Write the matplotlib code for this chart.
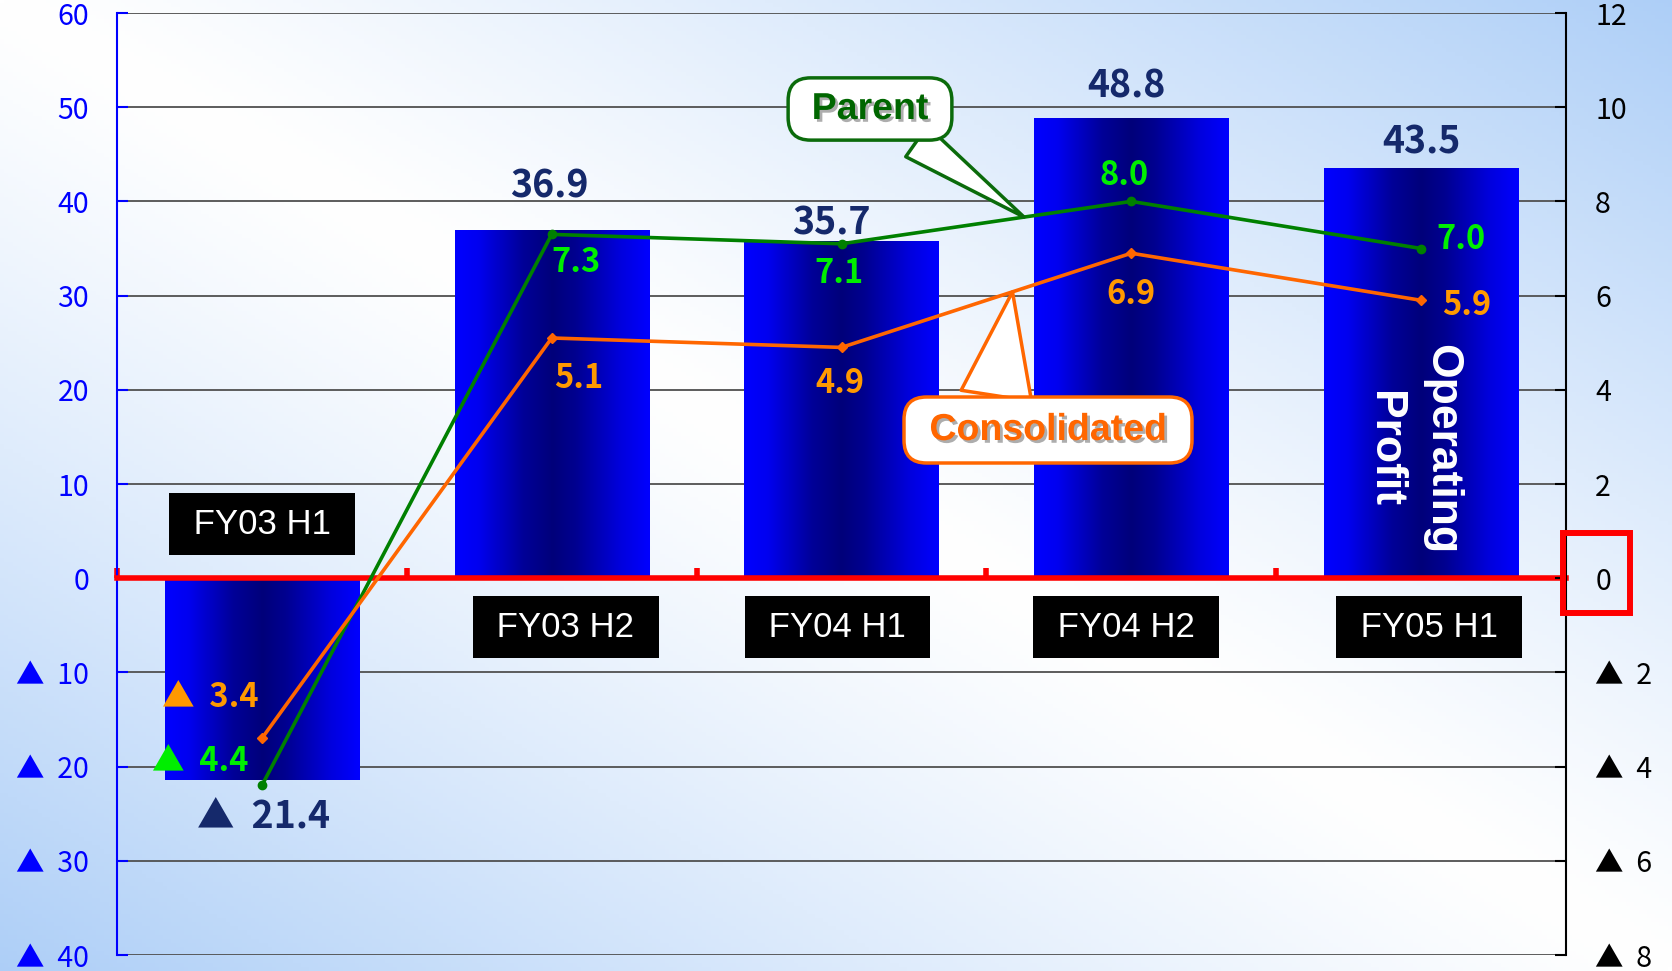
import matplotlib
matplotlib.use('Agg')
import matplotlib.pyplot as plt
import matplotlib.patheffects as pe
import numpy as np
from matplotlib.colors import LinearSegmentedColormap
from matplotlib.patches import Rectangle
from matplotlib.ticker import FuncFormatter

plt.rcParams['font.family'] = ['Liberation Sans', 'DejaVu Sans']
NUM_FONT = ['Noto Sans CJK JP', 'DejaVu Sans']   # big full-width ▲ like the original

# data
periods = ['FY03 H1', 'FY03 H2', 'FY04 H1', 'FY04 H2', 'FY05 H1']
operating_profit = [-21.4, 36.9, 35.7, 48.8, 43.5]   # left axis (bars)
parent = [-4.4, 7.3, 7.1, 8.0, 7.0]                   # right axis
consolidated = [-3.4, 5.1, 4.9, 6.9, 5.9]             # right axis

# label offsets in pixels (dx, dy)
bar_lbl_off = [(2, -37), (-2, 45), (-10, 19), (-5, 33), (0, 26)]
par_lbl_off = [(-62, 24), (24, -28), (-3, -30), (-7, 26), (40, 9)]
con_lbl_off = [(-52, 41), (27, -41), (-2, -36), (0, -41), (46, -5)]
box_off = [(0, 54), (14, -49), (-4, -49), (-5, -49), (8, -49)]


def fmt(v):
    return f'▲  {abs(v):.1f}' if v < 0 else f'{v:.1f}'


def tick_fmt(v, pos):
    return f'▲  {abs(v):.0f}' if v < 0 else f'{v:.0f}'


W, H = 1672, 971
fig = plt.figure(figsize=(W / 100, H / 100), dpi=100)

# background gradient
bg = fig.add_axes([0, 0, 1, 1], zorder=-10)
U, Y = np.meshgrid(np.linspace(0, 1, 400), np.linspace(0, 1, 240))
t = np.abs(U - Y) ** 1.2
white = np.array([1.0, 1.0, 1.0])
blue = np.array([0.68, 0.81, 0.97])
bg.imshow(white + (blue - white) * t[..., None], aspect='auto',
          extent=[0, 1, 0, 1], origin='upper')
bg.axis('off')

ax = fig.add_axes([117 / W, 1 - 955 / H, (1566 - 117) / W, (955 - 13) / H])
ax.patch.set_alpha(0)
x = np.arange(len(periods))

# bars with horizontal gradient
bar_cmap = LinearSegmentedColormap.from_list('bar', [
    (0.0, '#0000ff'), (0.12, '#0000f0'), (0.35, '#000098'), (0.5, '#00007a'),
    (0.62, '#000090'), (0.85, '#0000dd'), (1.0, '#0000ff')])
grad = np.linspace(0, 1, 256).reshape(1, -1)
bars = ax.bar(x, operating_profit, width=0.67, color='none', zorder=2)
for b in bars:
    x0, y0, w, h = b.get_x(), b.get_y(), b.get_width(), b.get_height()
    ax.imshow(grad, extent=[x0, x0 + w, min(y0, y0 + h), max(y0, y0 + h)],
              aspect='auto', cmap=bar_cmap, zorder=2)

ax.set_xlim(-0.5, 4.5)
ax.set_ylim(-40, 60)

ax.set_yticks(range(-40, 61, 10))
ax.yaxis.set_major_formatter(FuncFormatter(tick_fmt))
ax.yaxis.grid(True, color='#505050', lw=1.3)
ax.set_axisbelow(True)
ax.tick_params(axis='y', direction='in', length=8, width=1.5, color='#0000ff',
               labelcolor='#0000ff', labelsize=20.5, pad=20, labelfontfamily=NUM_FONT)

ax.set_xticks(np.arange(-0.5, 4, 1))
ax.set_xticklabels([])
ax.tick_params(axis='x', direction='in', length=7, width=4, color='red')
ax.spines['bottom'].set_position(('data', 0))
ax.spines['bottom'].set_color('red')
ax.spines['bottom'].set_linewidth(4)
ax.spines['top'].set_visible(False)
ax.spines['right'].set_visible(False)
ax.spines['left'].set_color('#0000ff')
ax.spines['left'].set_linewidth(1.5)

# bar value labels
for i, v in enumerate(operating_profit):
    ax.annotate(fmt(v), (x[i], v), xytext=bar_lbl_off[i], textcoords='offset pixels',
                ha='center', va='center', fontsize=27, fontweight='bold', color='#15296b',
                family=NUM_FONT)

# period boxes
for i, p in enumerate(periods):
    ax.annotate(f' {p} ', (x[i], 0), xytext=box_off[i],
                textcoords='offset pixels', ha='center', va='center',
                fontsize=25, color='white',
                bbox=dict(boxstyle='square,pad=0.42', fc='black', ec='none'))

ax.annotate('Operating\nProfit', (x[4], 0), xytext=(-8, 129), textcoords='offset pixels',
            ha='center', va='center', rotation=-90, fontsize=32, fontweight='bold',
            color='white', linespacing=1.5, multialignment='center')

# lines on right axis
ax2 = ax.twinx()
ax2.patch.set_alpha(0)
ax2.set_ylim(-8, 12)
ax2.set_yticks(range(-8, 13, 2))
ax2.yaxis.set_major_formatter(FuncFormatter(tick_fmt))
ax2.tick_params(axis='y', direction='in', length=8, width=1.5, color='black',
                labelcolor='black', labelsize=20.5, pad=21, labelfontfamily=NUM_FONT)
for s in ['left', 'top', 'bottom']:
    ax2.spines[s].set_visible(False)
ax2.spines['right'].set_linewidth(1.5)

ax2.plot(x, parent, color='#008000', lw=2.6, marker='o', ms=6, zorder=3)
ax2.plot(x, consolidated, color='#ff6600', lw=2.6, marker='D', ms=5.5, zorder=3)

for i, v in enumerate(parent):
    ax2.annotate(fmt(v), (x[i], v), xytext=par_lbl_off[i], textcoords='offset pixels',
                 ha='center', va='center', fontsize=23.5, fontweight='bold', color='#00ee00',
                 family=NUM_FONT)
for i, v in enumerate(consolidated):
    ax2.annotate(fmt(v), (x[i], v), xytext=con_lbl_off[i], textcoords='offset pixels',
                 ha='center', va='center', fontsize=23.5, fontweight='bold', color='#ff9900',
                 family=NUM_FONT)

# callouts
shadow = [pe.withSimplePatchShadow(offset=(2, -2), shadow_rgbFace='#999999', alpha=0.8)]
tip = 2.63
ax2.annotate(' Parent ', xy=(tip, np.interp(tip, x, parent)), xytext=(870, H - 109),
             textcoords='figure pixels', ha='center', va='center', fontsize=27,
             fontweight='bold', color='#006600', path_effects=shadow,
             bbox=dict(boxstyle='round,pad=0.35,rounding_size=0.6', fc='white',
                       ec='#0b6b0b', lw=2.5),
             arrowprops=dict(arrowstyle='wedge,tail_width=1.0,shrink_factor=0.5',
                             fc='white', ec='#0b6b0b', lw=2.5, relpos=(0.69, 0),
                             shrinkA=0, shrinkB=0))
tip = 2.59
ax2.annotate(' Consolidated ', xy=(tip, np.interp(tip, x, consolidated)),
             xytext=(1048, H - 430), textcoords='figure pixels', ha='center', va='center',
             fontsize=27, fontweight='bold', color='#ff6600', path_effects=shadow,
             bbox=dict(boxstyle='round,pad=0.4,rounding_size=0.6', fc='white',
                       ec='#ff6600', lw=2.5),
             arrowprops=dict(arrowstyle='wedge,tail_width=1.9,shrink_factor=0.5',
                             fc='white', ec='#ff6600', lw=2.5, relpos=(0.29, 1),
                             shrinkA=0, shrinkB=0))

# red box around right-axis zero
fig.add_artist(Rectangle((1563 / W, 1 - 613 / H), 67 / W, 80 / H, transform=fig.transFigure,
                         fill=False, ec='red', lw=4.3))

fig.savefig('out.png', dpi=100)
